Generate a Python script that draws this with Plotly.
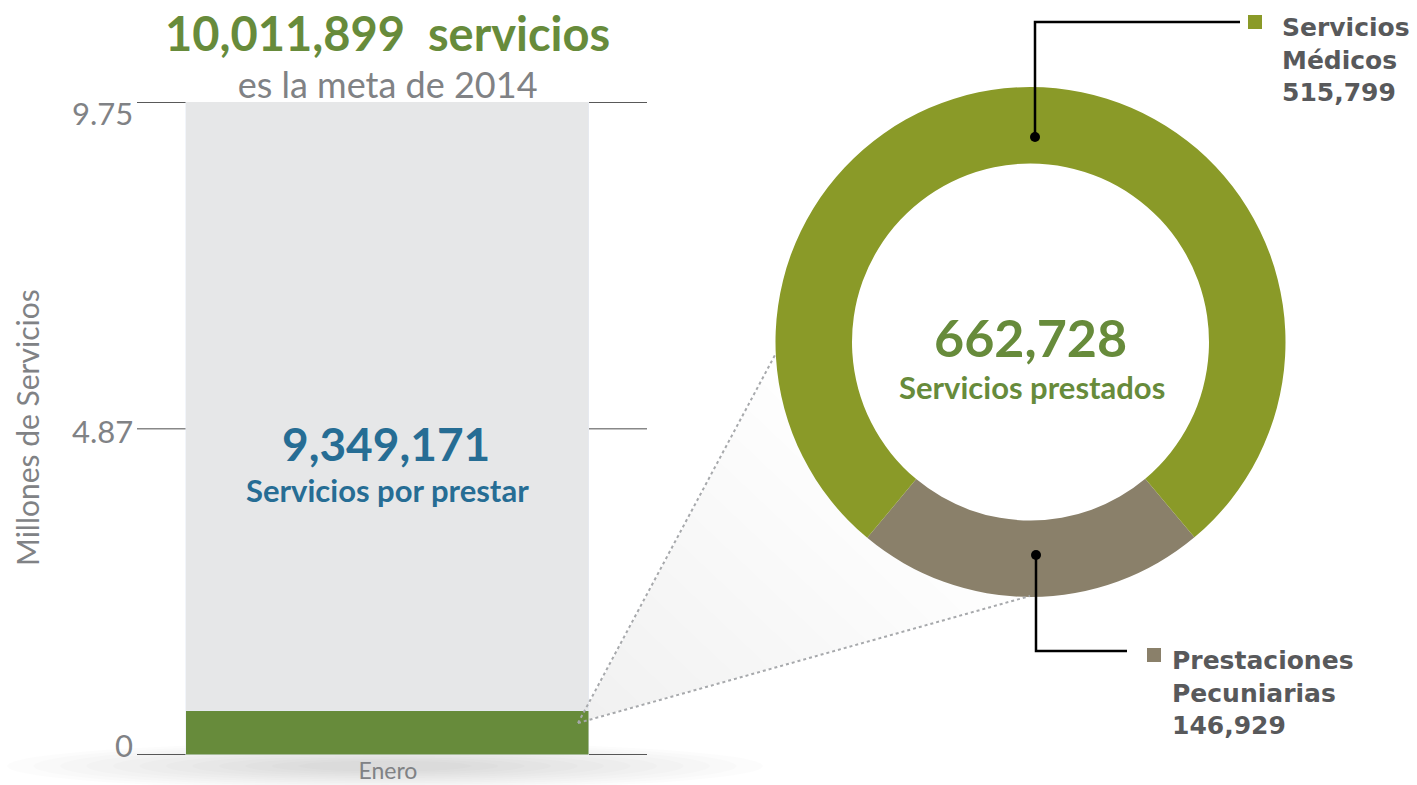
import plotly.graph_objects as go

W, H = 1417, 785

# ---- data ----
months = ["Enero"]
prestados = [0.662728]          # millones de servicios prestados
por_prestar = [9.349171]        # millones de servicios por prestar
meta_total = "10,011,899"
ytick_vals = [0, 4.87, 9.75]
ytick_text = ["0", "4.87", "9.75"]

donut_labels = ["Prestaciones Pecuniarias", "Servicios Médicos"]
donut_values = [146929, 515799]
donut_colors = ["#8A806A", "#8A9A28"]

GREEN = "#678B3B"
GRAYBAR = "#E6E7E8"
BLUE = "#266D94"
GRAYTXT = "#808285"
DARKTXT = "#58595B"


def px(x):
    return x / W


def py(y):
    return 1 - y / H


fig = go.Figure()

fig.add_trace(go.Bar(x=months, y=prestados, marker_color=GREEN, width=0.79,
                     showlegend=False, hoverinfo="y"))
fig.add_trace(go.Bar(x=months, y=por_prestar, marker_color=GRAYBAR, width=0.79,
                     showlegend=False, hoverinfo="y"))

fig.add_trace(go.Pie(
    labels=donut_labels, values=donut_values, hole=0.70, sort=False,
    direction="clockwise", rotation=140, textinfo="none",
    marker=dict(colors=donut_colors, line=dict(width=0)),
    domain=dict(x=[px(775.5), px(1285.5)], y=[py(597), py(87)]),
    showlegend=False,
))

shapes = []
# soft shadow under the bar
n_sh = 12
for i in range(n_sh):
    k = 1.0 - i * 0.07
    cx, cy, rx, ry = 385, 766, 378 * k, 24 * k
    shapes.append(dict(type="circle", xref="paper", yref="paper",
                       x0=px(cx - rx), x1=px(cx + rx), y0=py(cy + ry), y1=py(cy - ry),
                       fillcolor="rgba(0,0,0,0.011)", line=dict(width=0), layer="below"))
# horizontal reference lines
for v, col in [(0, "#222222"), (4.87, "#888888"), (9.75, "#222222")]:
    shapes.append(dict(type="line", xref="x domain", yref="y", x0=0, x1=1, y0=v, y1=v,
                       line=dict(color=col, width=1.5), layer="below"))

# zoom wedge with soft gradient
ax, ay = 578, 723
ux, uy = 775, 355
lx, ly = 1030, 596
n_w = 14
for i in range(n_w):
    f = 1.0 - i / n_w
    p1 = (ax + (ux - ax) * f, ay + (uy - ay) * f)
    p2 = (ax + (lx - ax) * f, ay + (ly - ay) * f)
    shapes.append(dict(type="path", xref="paper", yref="paper",
                       path=f"M {px(ax)},{py(ay)} L {px(p1[0])},{py(p1[1])} L {px(p2[0])},{py(p2[1])} Z",
                       fillcolor="rgba(0,0,0,0.0045)", line=dict(width=0), layer="below"))
for ex, ey in [(ux, uy), (lx, ly)]:
    shapes.append(dict(type="line", xref="paper", yref="paper",
                       x0=px(ax), y0=py(ay), x1=px(ex), y1=py(ey),
                       line=dict(color="#A7A9AC", width=2, dash="dot")))

# leader lines
shapes.append(dict(type="path", xref="paper", yref="paper",
                   path=f"M {px(1035)},{py(137)} L {px(1035)},{py(22)} L {px(1240)},{py(22)}",
                   line=dict(color="black", width=2.5)))
shapes.append(dict(type="path", xref="paper", yref="paper",
                   path=f"M {px(1036)},{py(555)} L {px(1036)},{py(651)} L {px(1127)},{py(651)}",
                   line=dict(color="black", width=2.5)))
for cx, cy in [(1035, 137), (1036, 555)]:
    shapes.append(dict(type="circle", xref="paper", yref="paper",
                       x0=px(cx - 5), x1=px(cx + 5), y0=py(cy + 5), y1=py(cy - 5),
                       fillcolor="black", line=dict(width=0)))
# legend squares
shapes.append(dict(type="rect", xref="paper", yref="paper",
                   x0=px(1248), x1=px(1262), y0=py(29), y1=py(15),
                   fillcolor=donut_colors[1], line=dict(width=0)))
shapes.append(dict(type="rect", xref="paper", yref="paper",
                   x0=px(1147), x1=px(1161), y0=py(662), y1=py(648),
                   fillcolor=donut_colors[0], line=dict(width=0)))

ann = []
FONT = "Lato"


def txt(x, y, text, size, color, family=FONT, xanchor="center", yanchor="middle", **kw):
    ann.append(dict(x=px(x), y=py(y), xref="paper", yref="paper", text=text,
                    showarrow=False, xanchor=xanchor, yanchor=yanchor,
                    font=dict(family=family, size=size, color=color), **kw))


txt(387, 56,
    f"<span style='font-size:47px;color:{GREEN}'><b>{meta_total}  servicios</b></span><br>"
    f"<span style='font-size:36px'>es la meta de 2014</span>", 36, GRAYTXT)
txt(27, 428, "Millones de Servicios", 30, GRAYTXT, textangle=-90)

shifts = {0: 10, 4.87: -2, 9.75: -11}
for v, t in zip(ytick_vals, ytick_text):
    ann.append(dict(x=px(135), y=v, xref="paper", yref="y", text=t, showarrow=False,
                    xanchor="right", yanchor="middle", yshift=shifts[v],
                    font=dict(family=FONT, size=31, color=GRAYTXT)))

txt(386, 443, f"<b>{por_prestar[0]*1e6:,.0f}</b>", 46, BLUE)
txt(387, 490, "<b>Servicios por prestar</b>", 31, BLUE)

total = sum(donut_values)
txt(1030, 337, f"<b>{total:,}</b>", 52, GREEN)
txt(1032, 387, "<b>Servicios prestados</b>", 31, GREEN)

LEG = "DejaVu Sans"
txt(1280, 60, f"<b>Servicios<br>Médicos<br>{donut_values[1]:,}</b>", 25, DARKTXT,
    family=LEG, xanchor="left", align="left")
txt(1170, 693, f"<b>Prestaciones<br>Pecuniarias<br>{donut_values[0]:,}</b>", 25, DARKTXT,
    family=LEG, xanchor="left", align="left")

fig.update_layout(
    width=W, height=H, margin=dict(l=0, r=0, t=0, b=0),
    paper_bgcolor="white", plot_bgcolor="rgba(0,0,0,0)",
    barmode="stack", bargap=0,
    xaxis=dict(domain=[px(137), px(647)], range=[-0.492, 0.508], showgrid=False, zeroline=False,
               showline=False, ticks="", tickfont=dict(family=FONT, size=23, color=GRAYTXT),
               fixedrange=True),
    yaxis=dict(domain=[py(755), py(102)], range=[0, 9.75], showgrid=False, zeroline=False,
               showline=False, showticklabels=False, fixedrange=True),
    shapes=shapes, annotations=ann,
)

fig.write_html("out.html", config={"displayModeBar": False},
               post_script="document.body.style.margin='0px';")
